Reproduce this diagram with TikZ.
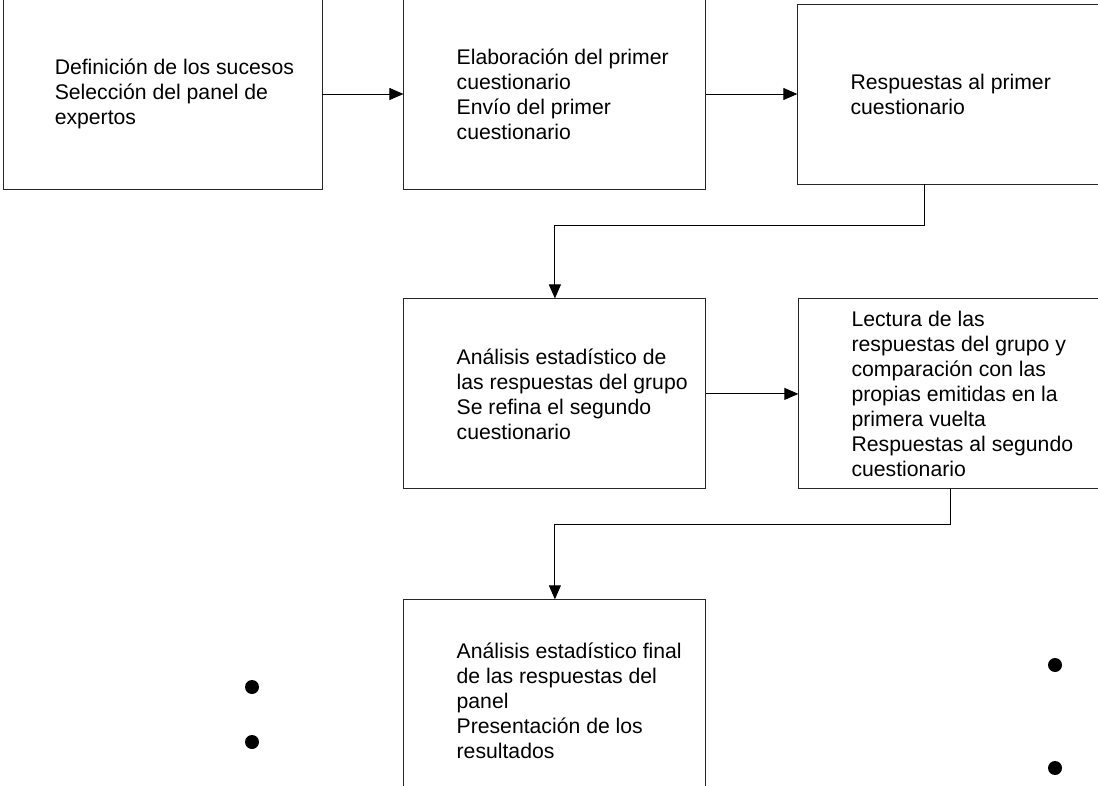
\documentclass[tikz,border=0pt]{standalone}
\usepackage{fontspec}
\setmainfont{Liberation Sans}
\usetikzlibrary{arrows.meta, positioning}

\begin{document}
\begin{tikzpicture}[
        x=1pt, y=-1pt,
        every node/.style={font=\fontsize{21.2}{25}\selectfont},
        stage/.style={rectangle, draw=black!85, line width=0.9pt, minimum width=302pt, minimum height=190pt, inner sep=0pt},
        txt/.style={align=left, inner sep=0pt},
        flow/.style={-{Triangle[length=14pt, width=12pt]}, line width=0.9pt},
        dot/.style={circle, fill=black, minimum size=14pt, inner sep=0pt}
    ]
        \useasboundingbox (0,0) rectangle (1098,786);

        \node[stage, minimum width=319pt] (def) at (162.5,94) {};
        \node[stage, right=81pt of def] (quest1) {};
        \node[stage, right=91pt of quest1, minimum width=304pt, minimum height=180pt] (resp1) {};
        \node[stage, below=109pt of quest1] (anal1) {};
        \node[stage, right=92pt of anal1, minimum width=303pt] (resp2) {};
        \node[stage, below=110pt of anal1, minimum height=202pt] (final) {};

        \node[txt, right=52pt of def.west] (def-t) {Definición de los sucesos\\Selección del panel de\\expertos};
        \node[txt, right=53pt of quest1.west] (quest1-t) {Elaboración del primer\\cuestionario\\Envío del primer\\cuestionario};
        \node[txt, right=53pt of resp1.west] (resp1-t) {Respuestas al primer\\cuestionario};
        \node[txt, right=53pt of anal1.west] (anal1-t) {Análisis estadístico de\\las respuestas del grupo\\Se refina el segundo\\cuestionario};
        \node[txt, right=53pt of resp2.west] (resp2-t) {Lectura de las\\respuestas del grupo y\\comparación con las\\propias emitidas en la\\primera vuelta\\Respuestas al segundo\\cuestionario};
        \node[txt, right=53pt of final.west] (final-t) {Análisis estadístico final\\de las respuestas del\\panel\\Presentación de los\\resultados};

        \node[dot] (dotL1) at (252,687) {};
        \node[dot] (dotL2) at (252,742) {};
        \node[dot] (dotR1) at (1055,665) {};
        \node[dot] (dotR2) at (1055,768) {};

        \coordinate (bend1) at (924,225);

        \draw[flow] (def) -- (quest1);
        \draw[flow] (quest1) -- (resp1);
        \draw[flow] (bend1 |- resp1.south) -- (bend1) -| (anal1.north);
        \draw[flow] (anal1) -- (resp2);
        \draw[flow] (resp2.south) -- ++(0,35) -| (final.north);
    \end{tikzpicture}
\end{document}
